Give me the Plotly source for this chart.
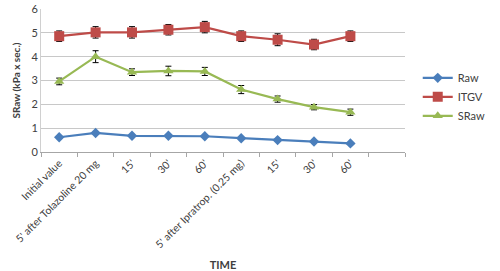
import plotly.graph_objects as go

tick_labels = ["Initial value", "5' after Tolazoline 20 mg", "15'", "30'", "60'",
               "5' after Ipratrop. (0.25 mg)", "15'", "30'", "60'"]
raw = [0.62, 0.80, 0.68, 0.68, 0.66, 0.58, 0.50, 0.44, 0.36]
raw_err = [0.03, 0.03, 0.03, 0.03, 0.03, 0.03, 0.03, 0.03, 0.03]
itgv = [4.86, 5.02, 5.02, 5.13, 5.24, 4.86, 4.71, 4.51, 4.86]
itgv_err = [0.22, 0.24, 0.24, 0.22, 0.24, 0.22, 0.25, 0.22, 0.22]
sraw = [2.96, 4.00, 3.35, 3.40, 3.38, 2.62, 2.22, 1.88, 1.67]
sraw_err = [0.14, 0.25, 0.14, 0.20, 0.17, 0.17, 0.13, 0.11, 0.13]

x = list(range(len(tick_labels)))

fig = go.Figure()
series = [
    ("Raw", raw, raw_err, "#4a7ebb", "diamond", 8),
    ("ITGV", itgv, itgv_err, "#be4b48", "square", 10),
    ("SRaw", sraw, sraw_err, "#98b954", "triangle-up", 9),
]
for name, vals, err, col, sym, sz in series:
    fig.add_trace(go.Scatter(
        x=x, y=vals, name=name, mode="lines+markers",
        line=dict(color=col, width=2.2),
        marker=dict(color=col, symbol=sym, size=sz),
        error_y=dict(type="data", array=err, color="black", thickness=1, width=3),
    ))

fig.update_layout(
    width=500, height=271,
    margin=dict(l=41, r=84, t=9, b=119),
    paper_bgcolor="white", plot_bgcolor="white",
    font=dict(family="Lato", size=11, color="#404040"),
    showlegend=True,
    legend=dict(x=1.035, y=0.62, xanchor="left", yanchor="top",
                font=dict(size=11, color="#404040"), tracegroupgap=0,
                itemwidth=30, bgcolor="rgba(0,0,0,0)"),
    xaxis=dict(
        range=[-0.5, 9.5], tickvals=x, ticktext=tick_labels, tickangle=-45,
        ticks="", showgrid=False, showline=True, linecolor="#a6a6a6", linewidth=1,
        zeroline=False, tickfont=dict(size=10.5), automargin=False,
        minor=dict(tickvals=[i - 0.5 for i in range(11)], ticks="outside",
                   ticklen=4, tickcolor="#a6a6a6", showgrid=False),
        title=dict(text="<b>TIME</b>", font=dict(size=11, color="#404040"), standoff=92),
    ),
    yaxis=dict(
        range=[0, 6], dtick=1, showgrid=True, gridcolor="#c8c8c8", gridwidth=1,
        showline=True, linecolor="#d0d0d0", zeroline=False, ticks="",
        tickfont=dict(size=11), automargin=False,
        title=dict(text="<b>SRaw (kPa x sec.)</b>", font=dict(size=10, color="#404040"), standoff=8),
    ),
)

fig.write_html(
    "out.html",
    config={"displayModeBar": False, "responsive": False},
    post_script=("document.body.style.margin='0';"
                 "document.body.style.overflow='hidden';"
                 "document.documentElement.style.overflow='hidden';"
                 "var gd=document.getElementById('{plot_id}');"
                 "gd.style.position='fixed';gd.style.top='0';gd.style.left='0';"),
)
